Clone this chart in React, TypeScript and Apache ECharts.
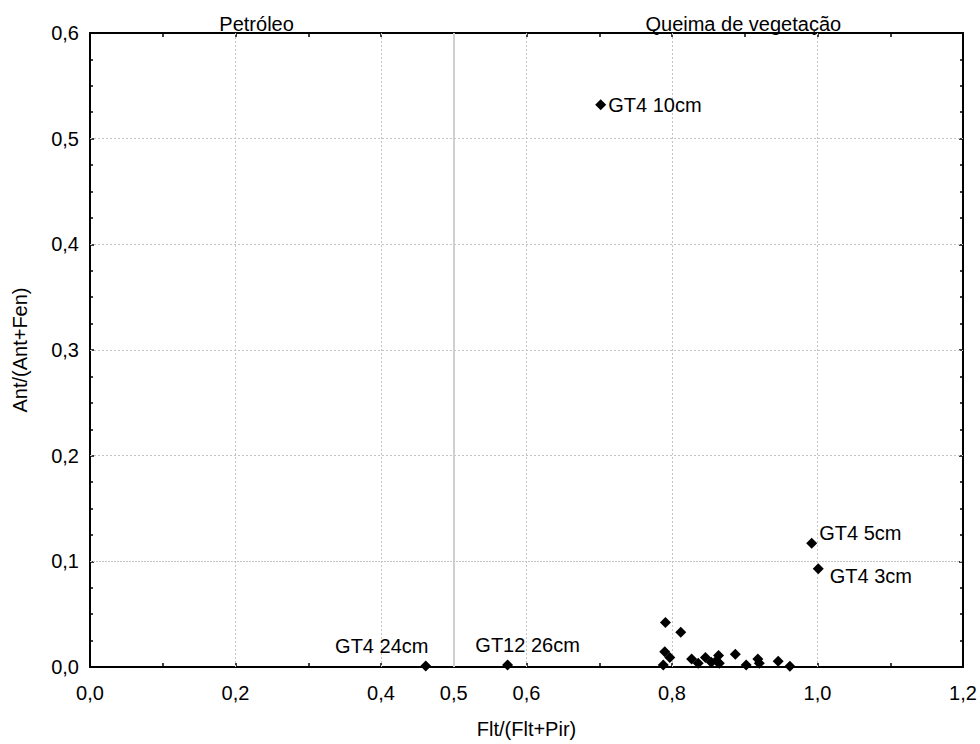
import { useEffect, useRef } from 'react';
import * as echarts from 'echarts';

// ---- data ----
const labeledNames = ['GT4 10cm', 'GT4 5cm', 'GT4 3cm', 'GT4 24cm', 'GT12 26cm'];
const labeledFlt = [0.702, 0.992, 1.001, 0.4615, 0.574];
const labeledAnt = [0.532, 0.117, 0.093, 0.001, 0.002];

const clusterFlt = [0.791, 0.812, 0.79, 0.797, 0.788, 0.827, 0.836, 0.846, 0.854, 0.861, 0.864, 0.865, 0.887, 0.902, 0.918, 0.92, 0.946, 0.962];
const clusterAnt = [0.042, 0.033, 0.0145, 0.009, 0.002, 0.0076, 0.0035, 0.009, 0.0044, 0.006, 0.011, 0.0035, 0.012, 0.002, 0.0076, 0.0035, 0.0054, 0.0007];

const xTickLabels = [0, 0.2, 0.4, 0.5, 0.6, 0.8, 1.0, 1.2];
const xDottedGrid = [0.2, 0.4, 0.6, 0.8, 1.0];
const xSolidGrid = [0.5];
const yDottedGrid = [0.2, 0.3, 0.4, 0.5];
const yDenseGrid = [0.1];

const regionNames = ['Petróleo', 'Queima de vegetação'];
const regionX = [0.229, 0.898];

const xName = 'Flt/(Flt+Pir)';
const yName = 'Ant/(Ant+Fen)';

// ---- label placement styles (not data) ----
const labelStyle: Record<string, any> = {
  'GT4 10cm': { position: 'right', distance: 2, offset: [0, 0] },
  'GT4 5cm': { position: 'right', distance: 2, offset: [0, -10] },
  'GT4 3cm': { position: 'right', distance: 6, offset: [0, 7] },
  'GT4 24cm': { position: 'top', distance: 4, offset: [-44, 0] },
  'GT12 26cm': { position: 'top', distance: 4, offset: [20, 0] },
};

const FONT = 'Liberation Sans, Arial, Helvetica, sans-serif';
const FS = 20;

const fmt = (v: number) => v.toFixed(1).replace('.', ',');

export default function App() {
  const ref = useRef<HTMLDivElement>(null);
  useEffect(() => {
    if (!ref.current) return;
    const chart = echarts.init(ref.current, undefined, { renderer: 'svg' });
    const axisLine = { show: true, onZero: false, lineStyle: { color: '#000', width: 2 } };
    const dotted = { color: '#c4c4c4', width: 1, type: [2, 2] as any };
    const dense = { color: '#c4c4c4', width: 1, type: [2, 1] as any };
    const solid = { color: '#d0d0d0', width: 2, type: 'solid' as any };
    const option: any = {
      animation: false,
      backgroundColor: '#fff',
      textStyle: { fontFamily: FONT },
      grid: { left: 90, right: 17, top: 33, bottom: 76 },
      xAxis: [
        {
          type: 'value', min: 0, max: 1.2, interval: 0.1, position: 'bottom',
          name: xName, nameLocation: 'middle', nameGap: 52,
          nameTextStyle: { color: '#000', fontSize: FS, fontFamily: FONT },
          axisLine, axisTick: { show: true, inside: true, length: 4, lineStyle: { color: '#000', width: 1.5 } },
          axisLabel: {
            color: '#000', fontSize: FS, fontFamily: FONT, margin: 16,
            formatter: (v: number) => (xTickLabels.some((t) => Math.abs(t - v) < 1e-6) ? fmt(v) : ''),
          },
          splitLine: { show: false },
        },
        {
          type: 'value', min: 0, max: 1.2, interval: 0.1, position: 'top',
          axisLine, axisTick: { show: true, inside: true, length: 4, lineStyle: { color: '#000', width: 1.5 } },
          axisLabel: { show: false }, splitLine: { show: false },
        },
      ],
      yAxis: [
        {
          type: 'value', min: 0, max: 0.6, interval: 0.1, position: 'left',
          name: yName, nameLocation: 'middle', nameGap: 60,
          nameTextStyle: { color: '#000', fontSize: FS, fontFamily: FONT },
          axisLine, axisTick: { show: true, inside: true, length: 4, lineStyle: { color: '#000', width: 1.5 } },
          minorTick: { show: true, splitNumber: 4, length: 3, lineStyle: { color: '#000', width: 1.5 } },
          axisLabel: { color: '#000', fontSize: FS, fontFamily: FONT, margin: 11, formatter: fmt },
          splitLine: { show: false },
        },
        {
          type: 'value', min: 0, max: 0.6, interval: 0.1, position: 'right',
          axisLine, axisTick: { show: true, inside: true, length: 4, lineStyle: { color: '#000', width: 1.5 } },
          minorTick: { show: true, splitNumber: 4, length: 3, lineStyle: { color: '#000', width: 1.5 } },
          axisLabel: { show: false }, splitLine: { show: false },
        },
      ],
      series: [
        {
          type: 'scatter', data: [], z: 1, silent: true,
          markLine: {
            silent: true, symbol: 'none', label: { show: false }, animation: false,
            data: [
              ...xDottedGrid.map((v) => ({ xAxis: v, lineStyle: dotted })),
              ...xSolidGrid.map((v) => ({ xAxis: v, lineStyle: solid })),
              ...yDottedGrid.map((v) => ({ yAxis: v, lineStyle: dotted })),
              ...yDenseGrid.map((v) => ({ yAxis: v, lineStyle: dense })),
            ],
          },
        },
        {
          type: 'scatter', symbol: 'diamond', symbolSize: 11, z: 5,
          itemStyle: { color: '#000', opacity: 1 },
          data: clusterFlt.map((x, i) => [x, clusterAnt[i]]),
        },
        {
          type: 'scatter', symbol: 'diamond', symbolSize: 11, z: 6,
          itemStyle: { color: '#000', opacity: 1 },
          data: labeledNames.map((n, i) => ({
            name: n,
            value: [labeledFlt[i], labeledAnt[i]],
            label: {
              show: true, formatter: n, color: '#000', fontSize: FS, fontFamily: FONT,
              ...labelStyle[n],
            },
          })),
        },
      ],
    };
    chart.setOption(option);
    const graphics = regionNames.map((name, i) => {
      const px = chart.convertToPixel({ xAxisIndex: 0 }, regionX[i]) as number;
      return {
        type: 'text', x: px, y: 24,
        style: { text: name, fill: '#000', fontSize: FS, fontFamily: FONT, textAlign: 'center', textVerticalAlign: 'middle' },
      };
    });
    chart.setOption({ graphic: graphics });
    return () => chart.dispose();
  }, []);
  return <div ref={ref} style={{ width: 980, height: 744, position: 'absolute', left: 0, top: 0, background: '#fff' }} />;
}
